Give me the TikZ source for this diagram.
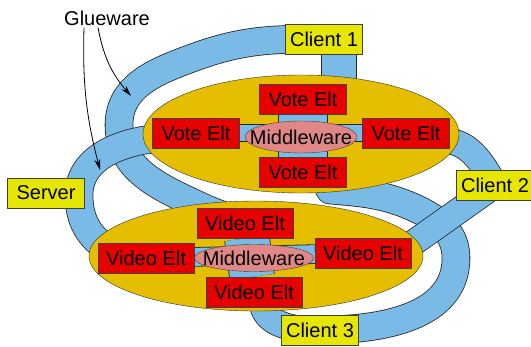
\documentclass[tikz,border=0pt]{standalone}
\usepackage{fontspec}
\setmainfont{Liberation Sans}
\usetikzlibrary{shapes.geometric,arrows.meta}
\definecolor{gold}{RGB}{229,190,0}
\definecolor{eltred}{RGB}{230,0,0}
\definecolor{boxyellow}{RGB}{230,230,0}
\definecolor{midpink}{RGB}{224,136,136}
\definecolor{glueblue}{RGB}{122,186,230}
\pgfdeclarelayer{bands}
\pgfdeclarelayer{disks}
\pgfdeclarelayer{links}
\pgfsetlayers{bands,disks,links,main}

\begin{document}
\begin{tikzpicture}[x=1pt, y=1pt, every node/.style={font=\fontsize{20}{24}\selectfont}, elt node/.style={rectangle, draw=black!75, fill=eltred, inner sep=0pt, minimum height=30pt}, vote node/.style={elt node, minimum width=87pt}, video node/.style={elt node, minimum width=96pt}, end node/.style={rectangle, draw=black!75, fill=boxyellow, inner sep=0pt, minimum width=77pt, minimum height=30pt}, mid node/.style={ellipse, draw=black!75, fill=midpink, inner sep=0pt}, group node/.style={ellipse, draw=black!80, fill=gold, inner sep=0pt}, glue band/.style={draw=black!85, line width=0.8pt, double=glueblue, double distance=27pt, line join=round}]

\useasboundingbox (0,0) rectangle (531,-346);

\node[vote node] (v0) at (303,-99) {Vote Elt};
\node[vote node] (v1) at (196,-133) {Vote Elt};
\node[vote node] (v2) at (406,-133) {Vote Elt};
\node[vote node] (v3) at (303,-172) {Vote Elt};
\node[mid node, minimum width=112pt, minimum height=32pt] (vmid) at (301,-137) {\makebox[0pt]{Middleware}};

\node[video node] (d0) at (245,-223) {Video Elt};
\node[video node] (d1) at (146,-258) {Video Elt};
\node[video node] (d2) at (363,-253) {Video Elt};
\node[video node] (d3) at (254,-292) {Video Elt};
\node[mid node, minimum width=119pt, minimum height=27pt] (dmid) at (254,-258) {\makebox[0pt]{Middleware}};

\node[end node] (c1) at (324,-39) {Client 1};
\node[end node] (c2) at (495,-185) {Client 2};
\node[end node] (c3) at (320,-330) {Client 3};
\node[end node] (srv) at (46,-193) {Server};

\node[inner sep=2pt] (glue) at (107,-18) {Glueware};
\coordinate (gl1) at (100,-170);
\coordinate (gl2) at (131,-96);
\coordinate (vidR) at (392,-258);

\begin{pgfonlayer}{disks}
\node[group node, minimum width=316pt, minimum height=118pt] (vote) at (301,-134) {};
\node[group node, minimum width=334pt, minimum height=110pt] (video) at (256,-256) {};
\end{pgfonlayer}

\begin{pgfonlayer}{links}
\path[] (v0) edge[glue band, double distance=48pt] (v3);
\path[] (v1) edge[glue band, double distance=16pt] (v2);
\path[] (d0) edge[glue band, double distance=44pt] (d3);
\path[] (d1) edge[glue band, double distance=18pt] (d2);
\end{pgfonlayer}

\begin{pgfonlayer}{bands}
\draw[glue band] (c1.center) to[out=180, in=20] (195,-57) to[out=200, in=90] (119,-125) to[out=-90, in=155] (200,-206) to[out=-25, in=165] (300,-235);
\draw[glue band] (vote.center) -- (145,-140) to[out=190, in=90] (79,-195) to[out=-90, in=150] (110,-250) -- (video.center);
\draw[glue band] (c3.center) to[out=0, in=-90] (456,-258) to[out=90, in=-25] (417,-209) to[out=155, in=-5] (330,-190) -- (vote.center);
\draw[glue band, double distance=25pt] (c2.center) -- (vidR);
\draw[glue band, double distance=25pt] (vote.center) -- (440,-141) to[out=5, in=120] (c2.center);
\draw[glue band, double distance=34pt] ([xshift=15pt]c1.center) -- ([xshift=38pt]vote.center);
\draw[glue band, double distance=25pt] (video.center) -- (262,-300) to[out=-90, in=180] (c3.center);
\end{pgfonlayer}

\draw[-{Stealth[length=11pt,width=6pt]}, line width=0.8pt] ([xshift=-23pt]glue.south) to[bend right=8] (gl1);
\draw[-{Stealth[length=11pt,width=6pt]}, line width=0.8pt] ([xshift=-9pt]glue.south) to[bend right=15] (gl2);
\end{tikzpicture}
\end{document}
